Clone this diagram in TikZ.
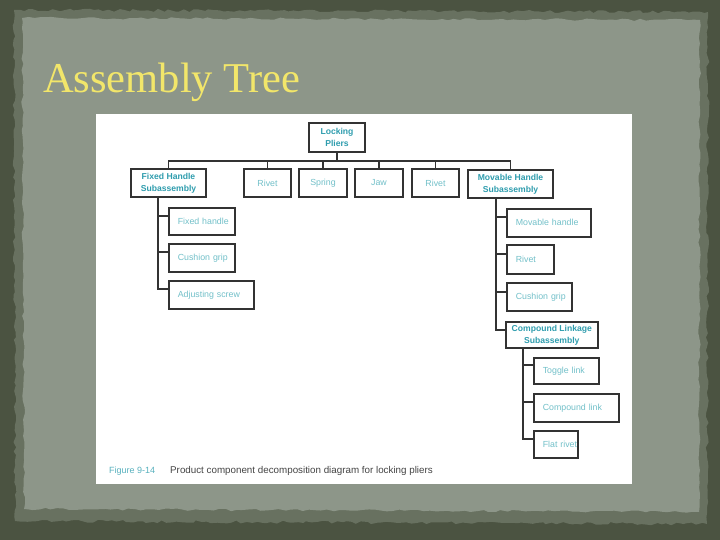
\documentclass[tikz,border=0pt]{standalone}
\usepackage{fontspec}
\setmainfont{Liberation Serif}
\setsansfont{Liberation Sans}
\usetikzlibrary{decorations.pathmorphing}
\definecolor{outerbg}{HTML}{4B5341}
\definecolor{paper}{HTML}{8D9689}
\definecolor{paperedge}{HTML}{687160}
\definecolor{titleyel}{HTML}{F2E66A}
\definecolor{tealdark}{HTML}{2F9DAE}
\definecolor{teallight}{HTML}{72C0C9}
\definecolor{boxline}{HTML}{333333}
\definecolor{captxt}{HTML}{444444}
\tikzset{
  boxbase/.style={draw=boxline, line width=1.6pt, fill=white, inner ysep=2pt},
  topbox/.style={boxbase, minimum height=28pt, minimum width=#1, inner xsep=0pt,
    align=center, text=teallight, font=\sffamily\fontsize{8.8}{12}\selectfont},
  subbox/.style={boxbase, minimum height=28pt, minimum width=#1, inner xsep=0pt,
    align=center, text=tealdark, font=\sffamily\bfseries\fontsize{8.6}{12}\selectfont},
  childbox/.style={boxbase, anchor=north west, minimum height=27pt, inner xsep=9pt,
    text width=#1, align=left, text=teallight, font=\sffamily\fontsize{8.8}{12}\selectfont},
  conn/.style={draw=boxline, line width=1.8pt}
}
\begin{document}
\begin{tikzpicture}[x=1pt,y=-1pt]
\useasboundingbox (0,0) rectangle (720,540);
% background
\fill[outerbg] (0,0) rectangle (720,540);
\fill[paperedge, decorate, decoration={random steps, segment length=5pt, amplitude=1.5pt}]
  (14,10) -- (708,12) -- (707,524) -- (15,521) -- cycle;
\fill[paper, decorate, decoration={random steps, segment length=6pt, amplitude=1.2pt}]
  (22,18) -- (700,20) -- (699,512) -- (24,509) -- cycle;
% title
\node[anchor=base west, inner sep=0pt, text=titleyel, font=\fontsize{42.5}{46}\selectfont]
  (title) at (43,93) {Assembly Tree};
% white figure area
\fill[white] (96,114) rectangle (632,484);

% top level
\node[subbox=56pt, minimum height=29pt] (lp) at (337,137.5) {Locking\\Pliers};
\node[subbox=75pt] (fh) at (168.5,183) {Fixed Handle\\Subassembly};
\node[topbox=47pt] (r1) at (267.5,183) {Rivet};
\node[topbox=48pt] (sp) at (323,183) {Spring};
\node[topbox=48pt] (jw) at (379,183) {Jaw};
\node[topbox=47pt] (r2) at (435.5,183) {Rivet};
\node[subbox=85pt] (mh) at (510.5,184) {Movable Handle\\Subassembly};

% fixed handle children
\node[childbox=48pt] (f1) at (168,207) {\mbox{Fixed handle}};
\node[childbox=48pt, minimum height=28pt] (f2) at (168,243) {\mbox{Cushion grip}};
\node[childbox=67pt, minimum height=28pt] (f3) at (168,280) {\mbox{Adjusting screw}};

% movable handle children
\node[childbox=66pt, minimum height=28pt] (m1) at (506,208) {\mbox{Movable handle}};
\node[childbox=29pt, minimum height=29pt] (m2) at (506,244) {\mbox{Rivet}};
\node[childbox=47pt, minimum height=28pt] (m3) at (506,282) {\mbox{Cushion grip}};
\node[subbox=92pt, minimum height=26pt, anchor=north west] (cl) at (505,321) {Compound Linkage\\Subassembly};

% compound linkage children
\node[childbox=47pt, minimum height=26pt] (c1) at (533,357) {\mbox{Toggle link}};
\node[childbox=67pt, minimum height=28pt] (c2) at (533,393) {\mbox{Compound link}};
\node[childbox=26pt, minimum height=27pt] (c3) at (533,430) {\mbox{Flat rivet}};

% connectors top level
\coordinate (bus) at ([yshift=-8pt]lp.south);
\draw[conn] (lp.south) -- (bus);
\draw[conn] (fh.north) |- (bus) -| (mh.north);
\draw[conn] (r1.north) -- (r1.north |- bus);
\draw[conn] (sp.north) -- (sp.north |- bus);
\draw[conn] (jw.north) -- (jw.north |- bus);
\draw[conn] (r2.north) -- (r2.north |- bus);

% fixed handle tree
\draw[conn] ([xshift=28pt]fh.south west) |- ([yshift=-9pt]f3.north west);
\draw[conn] ([xshift=28pt]fh.south west |- f1.north) ++(0,9) -- ([yshift=-9pt]f1.north west);
\draw[conn] ([xshift=28pt]fh.south west |- f2.north) ++(0,9) -- ([yshift=-9pt]f2.north west);

% movable handle tree
\draw[conn] ([xshift=29pt]mh.south west) |- ([yshift=-9pt]cl.north west);
\draw[conn] ([xshift=29pt]mh.south west |- m1.north) ++(0,9) -- ([yshift=-9pt]m1.north west);
\draw[conn] ([xshift=29pt]mh.south west |- m2.north) ++(0,10) -- ([yshift=-10pt]m2.north west);
\draw[conn] ([xshift=29pt]mh.south west |- m3.north) ++(0,10) -- ([yshift=-10pt]m3.north west);

% compound linkage tree
\draw[conn] ([xshift=18pt]cl.south west) |- ([yshift=-9pt]c3.north west);
\draw[conn] ([xshift=18pt]cl.south west |- c1.north) ++(0,8) -- ([yshift=-8pt]c1.north west);
\draw[conn] ([xshift=18pt]cl.south west |- c2.north) ++(0,9) -- ([yshift=-9pt]c2.north west);

% caption
\node[anchor=base west, inner sep=0pt, text=tealdark!80, font=\sffamily\fontsize{9}{10}\selectfont]
  (figlbl) at (109,473) {Figure 9-14};
\node[anchor=base west, inner sep=0pt, text=captxt, font=\sffamily\fontsize{9.8}{11}\selectfont]
  (caption) at (170,473) {Product component decomposition diagram for locking pliers};
\end{tikzpicture}
\end{document}
